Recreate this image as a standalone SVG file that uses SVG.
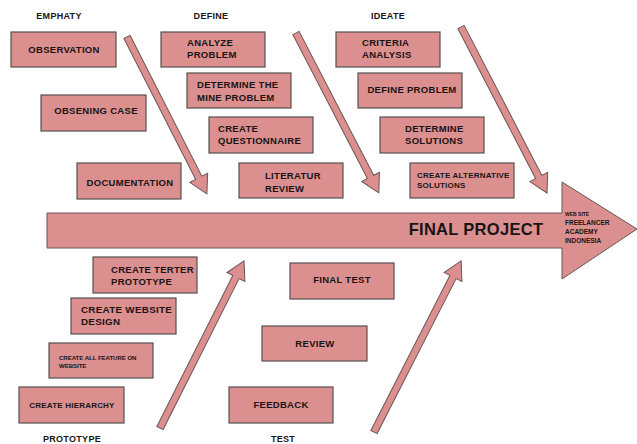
<svg xmlns="http://www.w3.org/2000/svg" width="637" height="444" viewBox="0 0 637 444">
<style>
.box{fill:#db8f8f;stroke:#555050;stroke-width:1.2}
.arr{fill:#db8f8f;stroke:#6b5555;stroke-width:1}
text{font-family:"Liberation Sans",Arial,sans-serif;font-weight:bold;fill:#1a1414;font-size:9.5px;letter-spacing:0.3px}
.c{text-anchor:middle}
.lbl{font-size:9px}
.s{font-size:8px;letter-spacing:0.2px}
.xs{font-size:6px;letter-spacing:0}
</style>
<rect width="637" height="444" fill="#ffffff"/>
<g id="spine">
<polygon class="arr" points="47,213 562,213 562,182 637,229 562,279 562,248 47,248"/>
<text x="476" y="235" class="c" style="font-size:16.5px">FINAL PROJECT</text>
<text x="565" y="216" style="font-size:5px;letter-spacing:0">WEB SITE</text>
<text x="565" y="225" style="font-size:6.5px;letter-spacing:0">FREELANCER</text>
<text x="565" y="234" style="font-size:6.5px;letter-spacing:0">ACADEMY</text>
<text x="565" y="243" style="font-size:6.5px;letter-spacing:0">INDONESIA</text>
</g>
<g id="connectors">
<polygon class="arr" transform="translate(127,37) rotate(63)" points="0,-3.5 158,-3.5 158,-10 176,0 158,10 158,3.5 0,3.5"/>
<polygon class="arr" transform="translate(296,33) rotate(62.6)" points="0,-3.5 162,-3.5 162,-10 180,0 162,10 162,3.5 0,3.5"/>
<polygon class="arr" transform="translate(461,27) rotate(62.6)" points="0,-3.5 169,-3.5 169,-10 187,0 169,10 169,3.5 0,3.5"/>
<polygon class="arr" transform="translate(160,428) rotate(-63.3)" points="0,-3.5 169,-3.5 169,-10 187,0 169,10 169,3.5 0,3.5"/>
<polygon class="arr" transform="translate(374,432) rotate(-63)" points="0,-3.5 174,-3.5 174,-10 192,0 174,10 174,3.5 0,3.5"/>
</g>
<g id="labels">
<text x="59" y="19" class="c lbl">EMPHATY</text>
<text x="211" y="19" class="c lbl">DEFINE</text>
<text x="388" y="19" class="c lbl">IDEATE</text>
<text x="72" y="442" class="c lbl">PROTOTYPE</text>
<text x="283" y="442" class="c lbl">TEST</text>
</g>
<g id="observation"><rect class="box" x="11" y="32" width="105" height="35"/><text x="64" y="53" class="c">OBSERVATION</text></g>
<g id="obsening-case"><rect class="box" x="41" y="95" width="105" height="36"/><text x="96" y="114" class="c">OBSENING CASE</text></g>
<g id="documentation"><rect class="box" x="77" y="163" width="104" height="36"/><text x="130" y="186" class="c">DOCUMENTATION</text></g>
<g id="analyze-problem"><rect class="box" x="161" y="32" width="104" height="35"/><text x="187" y="46">ANALYZE</text><text x="187" y="58">PROBLEM</text></g>
<g id="determine-mine"><rect class="box" x="187" y="73" width="104" height="35"/><text x="197" y="88">DETERMINE THE</text><text x="197" y="101">MINE PROBLEM</text></g>
<g id="create-questionnaire"><rect class="box" x="209" y="117" width="104" height="36"/><text x="218" y="132">CREATE</text><text x="218" y="144">QUESTIONNAIRE</text></g>
<g id="literatur-review"><rect class="box" x="239" y="163" width="104" height="35"/><text x="265" y="179">LITERATUR</text><text x="265" y="192">REVIEW</text></g>
<g id="criteria-analysis"><rect class="box" x="336" y="32" width="104" height="35"/><text x="362" y="46">CRITERIA</text><text x="362" y="58">ANALYSIS</text></g>
<g id="define-problem"><rect class="box" x="358" y="73" width="104" height="35"/><text x="412" y="93" class="c">DEFINE PROBLEM</text></g>
<g id="determine-solutions"><rect class="box" x="380" y="117" width="104" height="36"/><text x="405" y="132">DETERMINE</text><text x="405" y="144">SOLUTIONS</text></g>
<g id="create-alternative"><rect class="box" x="410" y="163" width="104" height="35"/><text x="417" y="178" class="s">CREATE ALTERNATIVE</text><text x="417" y="188" class="s">SOLUTIONS</text></g>
<g id="create-terter"><rect class="box" x="93" y="257" width="104" height="36"/><text x="111" y="273">CREATE TERTER</text><text x="111" y="285">PROTOTYPE</text></g>
<g id="create-website-design"><rect class="box" x="71" y="298" width="105" height="36"/><text x="81" y="313" style="font-size:9.8px">CREATE WEBSITE</text><text x="81" y="325" style="font-size:9.8px">DESIGN</text></g>
<g id="create-all-feature"><rect class="box" x="49" y="343" width="104" height="35"/><text x="59" y="360" class="xs">CREATE ALL FEATURE ON</text><text x="59" y="368" class="xs">WEBSITE</text></g>
<g id="create-hierarchy"><rect class="box" x="19" y="387" width="105" height="36"/><text x="72" y="408" class="c s">CREATE HIERARCHY</text></g>
<g id="final-test"><rect class="box" x="290" y="263" width="104" height="36"/><text x="342" y="283" class="c">FINAL TEST</text></g>
<g id="review"><rect class="box" x="262" y="326" width="105" height="35"/><text x="315" y="347" class="c">REVIEW</text></g>
<g id="feedback"><rect class="box" x="229" y="387" width="104" height="36"/><text x="281" y="408" class="c">FEEDBACK</text></g>
</svg>
